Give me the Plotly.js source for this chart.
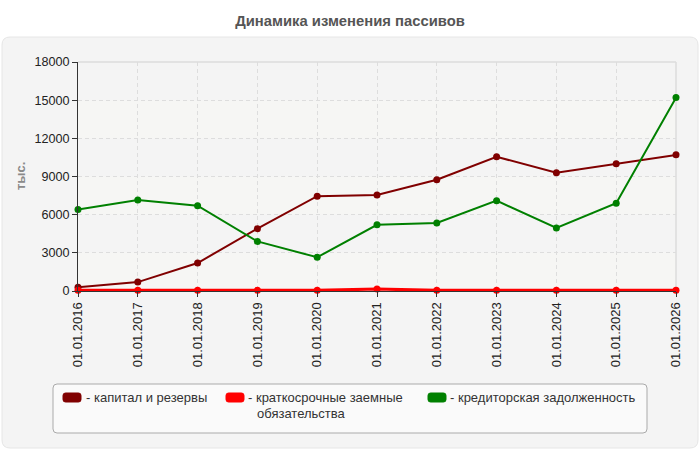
<!DOCTYPE html>
<html>
<head>
<meta charset="utf-8">
<script src="https://cdn.plot.ly/plotly-3.0.1.min.js"></script>
<style>html,body{margin:0;padding:0;background:#fff;}#chart{width:700px;height:450px;}</style>
</head>
<body>
<div id="chart"></div>
<script>
const categories = ['01.01.2016','01.01.2017','01.01.2018','01.01.2019','01.01.2020','01.01.2021','01.01.2022','01.01.2023','01.01.2024','01.01.2025','01.01.2026'];
const capitalReserves = [300, 700, 2200, 4900, 7450, 7550, 8750, 10550, 9300, 10000, 10700];
const shortTermLoans = [50, 50, 50, 50, 50, 150, 50, 50, 50, 50, 50];
const accountsPayable = [6400, 7150, 6700, 3900, 2650, 5200, 5350, 7100, 4950, 6900, 15200];
const seriesNames = ['капитал и резервы', 'краткосрочные заемные обязательства', 'кредиторская задолженность'];
const legendLines = [['- капитал и резервы'], ['- краткосрочные заемные', 'обязательства'], ['- кредиторская задолженность']];
const seriesColors = ['#800000', '#ff0000', '#008000'];
const yTicks = [0, 3000, 6000, 9000, 12000, 15000, 18000];
const titleText = 'Динамика изменения пассивов';
const yTitleText = 'тыс.';

// plot area in pixels
const L = 78, R = 676, T = 62, B = 291;
const px = v => (v - L) / (R - L);
const py = v => (B - v) / (B - T);

function roundRect(x0, y0, x1, y1, r) {
  const rx = r / (R - L), ry = r / (B - T);
  const a = px(x0), b = px(x1), c = py(y0), d = py(y1);
  return `M${a+rx},${c} L${b-rx},${c} Q${b},${c} ${b},${c-ry} L${b},${d+ry} Q${b},${d} ${b-rx},${d} L${a+rx},${d} Q${a},${d} ${a},${d+ry} L${a},${c-ry} Q${a},${c} ${a+rx},${c} Z`;
}

const font = 'Liberation Sans, Arial, sans-serif';
const seriesData = [capitalReserves, shortTermLoans, accountsPayable];
const lineWidths = [2, 3, 2];
const traces = seriesData.map((vals, i) => ({
  type: 'scatter', mode: 'lines+markers', name: seriesNames[i],
  x: categories, y: vals,
  line: {color: seriesColors[i], width: lineWidths[i]},
  marker: {color: seriesColors[i], size: 7},
  cliponaxis: false, showlegend: false
}));

const shapes = [];
// outer panel
shapes.push({type: 'path', xref: 'paper', yref: 'paper', layer: 'below', path: roundRect(2, 37, 698, 448, 8), fillcolor: '#f4f4f4', line: {color: '#e6e6e6', width: 1}});
// hatched-look bands
for (let i = 0; i < yTicks.length - 1; i++) {
  if (i % 2 === 0) {
    shapes.push({type: 'rect', xref: 'x domain', yref: 'y', layer: 'below', x0: 0, x1: 1, y0: yTicks[i], y1: yTicks[i+1], fillcolor: '#f6f6f4', line: {width: 0}});
  }
}
// top and right plot border
shapes.push({type: 'line', xref: 'x domain', yref: 'y domain', layer: 'below', x0: 0, x1: 1, y0: 1, y1: 1, line: {color: '#dcdcdc', width: 1.5}});
shapes.push({type: 'line', xref: 'x domain', yref: 'y domain', layer: 'below', x0: 1, x1: 1, y0: 0, y1: 1, line: {color: '#dcdcdc', width: 1.5}});
// legend box
shapes.push({type: 'path', xref: 'paper', yref: 'paper', layer: 'above', path: roundRect(53, 384, 647, 433, 4), fillcolor: '#fafafa', line: {color: '#aaaaaa', width: 1}});
// legend swatches
const swX = [63, 226, 428];
const txX = [85, 247, 449];
swX.forEach((sx, i) => {
  shapes.push({type: 'path', xref: 'paper', yref: 'paper', layer: 'above', path: roundRect(sx, 393, sx + 18, 402, 2.5), fillcolor: seriesColors[i], line: {color: seriesColors[i], width: 1}});
});

const annotations = [];
legendLines.forEach((lines, i) => {
  lines.forEach((ln, j) => {
    annotations.push({xref: 'paper', yref: 'paper', x: px(j === 0 ? txX[i] : txX[i] + 8.5), y: py(398 + j * 15), xanchor: 'left', yanchor: 'middle', text: ln, showarrow: false, font: {family: font, size: 13, color: '#333'}, borderpad: 0});
  });
});
annotations.push({xref: 'paper', yref: 'paper', x: px(20), y: py(176), xanchor: 'center', yanchor: 'middle', text: '<b>' + yTitleText + '</b>', textangle: -90, showarrow: false, font: {family: font, size: 13, color: '#8a8a8a'}});

const layout = {
  width: 700, height: 450,
  margin: {l: L, r: 700 - R, t: T, b: 450 - B, pad: 0},
  paper_bgcolor: '#ffffff', plot_bgcolor: '#fcfcf6',
  font: {family: font, size: 13, color: '#222'},
  title: {text: '<b>' + titleText + '</b>', x: 0.5, xref: 'container', y: 1 - 21/450, yref: 'container', yanchor: 'middle', xanchor: 'center', font: {family: font, size: 14.8, color: '#555'}},
  xaxis: {type: 'category', range: [0, categories.length - 1], tickangle: -90, showgrid: true, gridcolor: '#dddddd', griddash: '4px,3px', gridwidth: 1, showline: true, linecolor: '#333', linewidth: 1, ticks: 'outside', ticklen: 5, tickcolor: '#333', tickfont: {family: font, size: 13, color: '#222'}, zeroline: false, automargin: false, fixedrange: true},
  yaxis: {range: [0, 18000], tickvals: yTicks, ticktext: yTicks.map(String), showgrid: true, gridcolor: '#dddddd', griddash: '4px,3px', gridwidth: 1, showline: true, linecolor: '#333', linewidth: 1, ticks: 'outside', ticklen: 5, tickcolor: '#333', tickfont: {family: font, size: 12.6, color: '#222'}, zeroline: false, automargin: false, fixedrange: true},
  shapes: shapes,
  annotations: annotations,
  showlegend: false
};

Plotly.newPlot('chart', traces, layout, {displayModeBar: false, staticPlot: true});
</script>
</body>
</html>
